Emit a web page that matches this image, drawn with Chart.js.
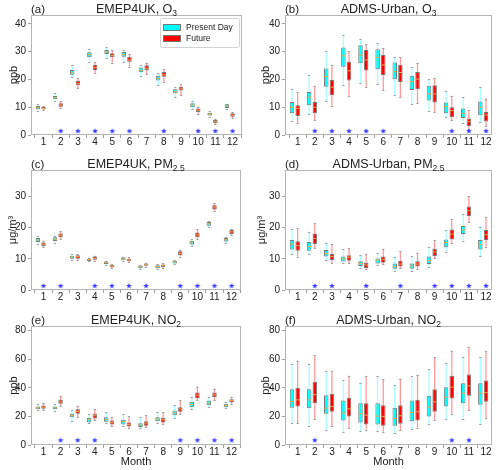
<!DOCTYPE html>
<html><head><meta charset="utf-8">
<script src="https://cdn.jsdelivr.net/npm/chart.js@4.4.1/dist/chart.umd.min.js"></script>
<style>
html,body{margin:0;padding:0;background:#fff}
body{width:500px;height:470px;position:relative;overflow:hidden}
canvas{position:absolute}
</style></head>
<body>
<canvas id="pa"></canvas><canvas id="pb"></canvas>
<canvas id="pc"></canvas><canvas id="pd"></canvas>
<canvas id="pe"></canvas><canvas id="pf"></canvas>
<script>
// ---------------- DATA ----------------
const months = [1,2,3,4,5,6,7,8,9,10,11,12];
// each row: [whisker low, Q1, median, Q3, whisker high]
const aPresent = [[8.8,9.25,9.85,10.45,11.2],[12.4,12.85,13.4,14.05,15.0],[20.8,21.7,22.4,23.4,25.1],[26.4,28.0,28.9,29.8,30.9],[27.8,29.2,29.9,30.6,31.6],[26.3,28.2,28.9,29.9,30.6],[21.3,22.6,23.3,24.3,25.2],[17.9,19.6,20.4,21.3,22.2],[13.6,15.0,15.6,16.5,17.4],[9.5,10.0,10.8,11.4,12.4],[6.6,7.0,7.5,8.0,8.6],[9.5,9.7,10.4,11.05,11.3]];
const aFuture = [[9.0,9.25,9.6,10.2,10.3],[9.85,10.2,10.8,11.4,12.25],[16.8,17.9,18.5,19.5,20.5],[22.2,23.4,24.3,25.2,26.3],[26.1,28.0,28.6,29.4,30.6],[24.6,26.4,27.0,28.2,29.2],[22.0,23.4,24.0,25.1,26.1],[19.1,21.0,21.7,22.7,23.7],[14.3,16.0,16.6,17.4,18.4],[7.6,8.3,8.9,9.5,10.2],[4.0,4.3,4.8,5.4,5.9],[6.0,6.6,7.1,7.8,8.3]];
const bPresent = [[5.2,7.8,10.0,11.9,16.5],[7.6,10.7,13.6,15.5,21.5],[12.1,17.4,21.0,23.9,30.1],[18.0,24.6,28.5,31.5,36.0],[18.6,25.8,28.8,32.3,34.6],[18.4,23.7,28.0,30.9,33.0],[14.4,20.1,22.8,26.1,28.0],[11.2,16.2,19.2,21.3,24.4],[8.8,12.4,14.8,17.7,20.1],[6.4,7.8,10.2,11.7,16.0],[4.4,6.1,7.8,9.5,13.6],[4.7,7.1,10.0,12.1,17.4]];
const bFuture = [[4.4,6.8,9.6,10.7,15.5],[5.4,7.8,10.0,11.9,17.7],[10.5,14.3,17.2,19.8,25.3],[14.1,19.6,23.1,26.4,30.1],[17.4,23.2,27.0,30.6,32.8],[16.2,21.6,25.2,28.8,31.2],[13.6,19.1,22.5,25.3,28.0],[11.4,16.5,20.1,22.7,25.8],[8.3,11.7,14.8,17.9,20.5],[5.4,6.4,8.8,10.0,14.1],[2.3,3.2,4.8,5.9,9.0],[3.2,4.9,7.2,8.3,13.1]];
const cPresent = [[14.7,15.4,16.0,16.65,17.3],[15.2,15.7,16.2,16.9,17.3],[9.6,10.0,10.6,11.0,11.5],[9.2,9.3,9.7,10.0,10.4],[8.0,8.3,8.75,9.1,9.4],[9.2,9.5,9.9,10.4,10.7],[6.7,7.0,7.4,7.8,8.0],[6.7,7.0,7.5,7.9,8.2],[8.2,8.5,9.0,9.4,9.7],[14.1,14.6,15.3,15.8,16.2],[20.1,20.6,21.2,21.8,22.2],[15.05,15.5,16.1,16.65,17.1]];
const cFuture = [[13.7,14.1,14.6,15.2,15.8],[16.2,16.9,17.5,18.1,18.8],[9.6,10.0,10.7,11.1,11.5],[9.4,9.7,10.1,10.7,11.0],[7.0,7.3,7.7,8.1,8.4],[8.9,9.2,9.6,10.0,10.5],[7.5,7.8,8.2,8.5,8.75],[7.0,7.4,7.8,8.2,8.5],[10.7,11.1,11.7,12.4,12.8],[16.4,16.9,17.6,18.4,19.4],[25.4,25.8,26.5,27.1,27.8],[17.5,17.9,18.6,19.2,19.6]];
const dPresent = [[11.4,13.0,14.7,16.0,19.4],[11.5,12.6,13.9,15.4,18.7],[9.6,10.7,11.7,12.8,15.2],[8.5,9.1,10.0,10.7,13.0],[7.0,7.7,8.5,9.2,11.1],[8.0,8.5,9.6,10.1,11.7],[6.2,6.8,7.5,8.5,10.7],[6.0,6.8,7.7,8.5,10.9],[7.5,8.3,9.4,10.7,13.9],[12.3,13.7,15.2,16.2,19.2],[15.8,17.9,19.2,20.5,24.3],[10.9,13.0,14.5,16.0,20.3]];
const dFuture = [[10.7,12.6,14.2,15.6,19.75],[13.3,14.7,16.5,18.1,21.35],[8.5,9.6,10.7,11.5,14.7],[8.5,9.4,10.5,11.1,13.3],[6.6,7.0,8.0,8.75,11.4],[8.3,8.75,9.8,10.7,13.2],[7.0,7.5,8.3,9.4,12.4],[6.6,7.5,8.3,9.2,12.0],[10.1,10.9,12.2,13.2,16.0],[14.9,16.2,17.9,19.4,22.6],[21.6,23.7,25.4,26.7,30.1],[13.9,16.0,17.7,19.2,23.3]];
const ePresent = [[24.2,25.1,26.0,27.0,28.6],[24.0,25.1,26.0,27.0,28.6],[16.7,19.5,20.7,21.9,24.7],[15.3,15.8,17.7,19.1,21.9],[15.3,16.3,17.9,19.5,23.3],[13.0,14.4,16.3,17.7,21.9],[11.6,12.6,14.0,15.3,19.5],[15.3,16.7,18.1,19.5,23.3],[18.6,20.9,22.6,24.2,27.9],[25.1,26.5,28.4,30.2,33.5],[26.5,27.9,29.3,31.2,33.5],[25.6,26.5,27.7,28.8,30.2]];
const eFuture = [[24.2,25.3,26.5,27.7,29.3],[27.4,28.8,30.2,31.6,34.4],[19.5,21.9,23.5,25.1,27.4],[17.2,18.6,20.5,21.9,25.3],[13.0,14.4,15.8,17.2,19.5],[11.6,13.0,14.4,15.8,20.0],[12.6,13.5,15.3,16.7,20.9],[14.4,15.8,17.7,19.1,22.8],[21.4,23.3,25.1,26.5,31.2],[31.2,32.6,34.9,36.7,40.9],[31.6,33.5,35.1,36.7,39.5],[28.8,29.8,31.2,32.1,33.5]];
const fPresent = [[15.3,26.0,30.5,39.1,56.7],[13.5,25.8,31.6,39.1,56.7],[10.7,21.9,25.8,34.9,51.6],[9.3,17.2,22.3,31.2,45.6],[9.8,15.8,21.9,29.3,43.7],[9.8,14.4,20.2,29.3,48.4],[8.4,13.5,18.6,26.0,42.3],[11.2,16.7,22.8,31.2,48.4],[14.9,20.0,26.5,34.4,53.0],[18.1,27.0,33.5,40.5,57.2],[18.1,29.3,36.3,43.3,61.4],[14.9,28.1,36.3,43.3,61.4]];
const fFuture = [[15.3,27.0,31.6,40.0,58.6],[18.1,29.3,35.3,44.2,62.8],[13.0,23.3,27.0,35.8,51.6],[11.6,20.0,25.3,33.0,48.4],[10.7,14.4,20.9,29.3,48.4],[9.3,13.5,20.0,27.9,46.0],[10.2,14.9,20.5,27.9,46.5],[12.1,17.2,23.3,31.6,49.3],[17.2,23.3,30.2,39.1,61.4],[21.4,32.6,40.5,48.4,66.0],[24.2,34.4,41.4,49.3,68.8],[18.6,30.2,36.7,45.1,65.6]];
// months marked with a star (significant change)
const aStars = [2,3,4,5,6,8,10,11,12];
const bStars = [2,3,4,5,6,10,11,12];
const cStars = [1,2,4,5,6,7,9,10,11,12];
const dStars = [2,3,5,7,9,10,11,12];
const eStars = [2,3,4,9,10,11,12];
const fStars = [2,10,11];
const seriesNames = ['Present Day','Future'];

// ---------------- STYLE ----------------
Chart.defaults.font.family = "'Liberation Sans', Arial, sans-serif";
Chart.defaults.color = '#222';
Chart.defaults.animation = false;
const PRES_FILL = '#00ffff', FUT_FILL = '#ff0000';

function makeStar(r, color) {
  const s = Math.ceil(r * 2) + 2;
  const c = document.createElement('canvas'); c.width = s; c.height = s;
  const g = c.getContext('2d'); g.fillStyle = color; g.beginPath();
  for (let k = 0; k < 10; k++) {
    const rad = k % 2 ? r * 0.42 : r; const a = -Math.PI / 2 + k * Math.PI / 5;
    g.lineTo(s / 2 + rad * Math.cos(a), s / 2 + rad * Math.sin(a));
  }
  g.closePath(); g.fill(); return c;
}
const starImg = makeStar(3, '#3535ff');

const boxExtras = {
  id: 'boxExtras',
  beforeDatasetsDraw(chart) {
    const ctx = chart.ctx, ys = chart.scales.y;
    chart.data.datasets.forEach((ds, di) => {
      if (!ds.stats) return;
      const meta = chart.getDatasetMeta(di);
      ctx.save();
      meta.data.forEach((bar, i) => {
        const s = ds.stats[i]; const x = bar.x, w = bar.width;
        ctx.strokeStyle = ds.whiskerColor; ctx.lineWidth = 1.3;
        ctx.beginPath(); ctx.moveTo(x, ys.getPixelForValue(s[0])); ctx.lineTo(x, ys.getPixelForValue(s[4])); ctx.stroke();
        ctx.strokeStyle = '#a0a0a0'; ctx.lineWidth = 1;
        [s[0], s[4]].forEach(v => { const py = Math.round(ys.getPixelForValue(v)) + 0.5;
          ctx.beginPath(); ctx.moveTo(x - w / 4, py); ctx.lineTo(x + w / 4, py); ctx.stroke(); });
      });
      ctx.restore();
    });
  },
  afterDatasetsDraw(chart) {
    const ctx = chart.ctx, ys = chart.scales.y;
    chart.data.datasets.forEach((ds, di) => {
      if (!ds.stats) return;
      const meta = chart.getDatasetMeta(di);
      ctx.save(); ctx.strokeStyle = ds.medianColor; ctx.lineWidth = 1;
      meta.data.forEach((bar, i) => {
        const py = ys.getPixelForValue(ds.stats[i][2]);
        ctx.beginPath(); ctx.moveTo(bar.x - bar.width / 2 + 0.5, py); ctx.lineTo(bar.x + bar.width / 2 - 0.5, py); ctx.stroke();
      });
      ctx.restore();
    });
    // frame
    const a = chart.chartArea;
    ctx.save(); ctx.strokeStyle = '#b4b4b4'; ctx.lineWidth = 1;
    ctx.strokeRect(Math.round(a.left) + 0.5, Math.round(a.top) + 0.5, Math.round(a.right - a.left) - 1, Math.round(a.bottom - a.top) - 1);
    ctx.restore();
  },
  afterDraw(chart, args, opts) {
    const ctx = chart.ctx, a = chart.chartArea;
    // title with subscript
    const base = a.top - 2;
    ctx.save(); ctx.fillStyle = '#222'; ctx.textBaseline = 'alphabetic';
    const big = "12.5px 'Liberation Sans', Arial, sans-serif", small = "8.5px 'Liberation Sans', Arial, sans-serif";
    let total = 0;
    opts.parts.forEach(p => { ctx.font = p[1] ? small : big; total += ctx.measureText(p[0]).width; });
    let x = (a.left + a.right) / 2 - total / 2;
    opts.parts.forEach(p => { ctx.font = p[1] ? small : big; ctx.textAlign = 'left';
      ctx.fillText(p[0], x, p[1] ? base + 3 : base); x += ctx.measureText(p[0]).width; });
    ctx.font = "11.5px 'Liberation Sans', Arial, sans-serif"; ctx.textAlign = 'left';
    ctx.fillText(opts.label, a.left, base);
    // legend
    if (opts.legend) {
      const lw = 79, lh = 29, lx = a.right - lw - 3, ly = a.top + 2.5;
      ctx.fillStyle = 'rgba(255,255,255,0.85)'; ctx.strokeStyle = '#d2d2d2'; ctx.lineWidth = 1;
      ctx.beginPath(); ctx.roundRect(Math.round(lx) + 0.5, Math.round(ly) + 0.5, lw, lh, 2); ctx.fill(); ctx.stroke();
      const fills = [PRES_FILL, FUT_FILL];
      ctx.font = "8.5px 'Liberation Sans', Arial, sans-serif"; ctx.textBaseline = 'middle';
      seriesNames.forEach((n, k) => {
        const cy = ly + 9.5 + k * 11;
        ctx.fillStyle = fills[k]; ctx.fillRect(lx + 3, cy - 3, 17, 6);
        ctx.strokeStyle = '#777'; ctx.strokeRect(Math.round(lx + 3) + 0.5, Math.round(cy - 3) + 0.5, 17, 6);
        ctx.fillStyle = '#222'; ctx.fillText(n, lx + 26, cy + 0.5);
      });
    }
    ctx.restore();
  }
};

function makePanel(id, p) {
  const cv = document.getElementById(id);
  cv.width = p.w; cv.height = p.h;
  cv.style.left = p.left + 'px'; cv.style.top = p.top + 'px';
  const boxDs = (stats, off, fill, whisk, label) => ({
    type: 'bar', label, stats, whiskerColor: whisk, medianColor: '#e6a84a',
    data: stats.map((s, i) => ({ x: months[i] + off, y: [s[1], s[3]] })),
    backgroundColor: fill, borderColor: '#7a7a7a', borderWidth: 1, borderSkipped: false,
    grouped: false, barPercentage: 1.0, order: 2
  });
  const tickFont = { size: 10 };
  const yTickVals = [];
  for (let v = 0; v <= p.ymax + 1e-9; v += p.step) yTickVals.push(v);
  new Chart(cv, {
    data: {
      datasets: [
        boxDs(p.present, -0.33, PRES_FILL, '#a8ffff', seriesNames[0]),
        boxDs(p.future, 0, FUT_FILL, '#ff9a9a', seriesNames[1]),
        { type: 'line', label: 'sig', data: p.stars.map(m => ({ x: m, y: p.starY })),
          showLine: false, pointStyle: starImg, pointRadius: 3, order: 1 }
      ]
    },
    options: {
      responsive: false, animation: false,
      layout: { padding: { left: 0, right: p.pr, top: p.pt, bottom: 0 } },
      plugins: { legend: { display: false }, tooltip: { enabled: false }, title: { display: false },
        boxExtras: { parts: p.title, label: p.label, legend: !!p.legend } },
      scales: {
        x: { type: 'linear', min: p.xmin, max: p.xmax, offset: false,
          afterBuildTicks: s => { s.ticks = months.map(v => ({ value: v })); },
          afterFit: s => { s.height = p.xh; s.paddingLeft = 0; s.paddingRight = 0; },
          ticks: { font: tickFont, autoSkip: false, maxRotation: 0, padding: -2, color: '#222' },
          grid: { display: true, drawOnChartArea: false, drawTicks: true, tickLength: 3, color: '#a0a0a0' },
          border: { display: false },
          title: { display: !!p.xtitle, text: p.xtitle || '', font: { size: 11 }, padding: { top: 0, bottom: 1 }, color: '#222' } },
        y: { type: 'linear', min: 0, max: p.ymax,
          afterBuildTicks: s => { s.ticks = yTickVals.map(v => ({ value: v })); },
          afterFit: s => { s.width = p.yw; s.paddingTop = 0; s.paddingBottom = 0; },
          ticks: { font: tickFont, padding: 2, color: '#222' },
          grid: { display: true, drawOnChartArea: false, drawTicks: true, tickLength: 3, color: '#a0a0a0' },
          border: { display: false },
          title: { display: true, text: p.ytitle, font: { size: 11 }, padding: { top: p.ytp, bottom: 0 }, color: '#222' } }
      }
    },
    plugins: [boxExtras]
  });
}

makePanel('pa', { left: 0, top: 0, w: 250, h: 152, pt: 15, pr: 8, yw: 31, xh: 17, xmin: 0.27, xmax: 12.55,
  ymax: 43.2, step: 10, starY: 1.4, ytitle: 'ppb', ytp: 7.5, label: '(a)', title: [['EMEP4UK, O', 0], ['3', 1]],
  present: aPresent, future: aFuture, stars: aStars, legend: true });
makePanel('pb', { left: 250, top: 0, w: 250, h: 152, pt: 15, pr: 8, yw: 35, xh: 17, xmin: 0.26, xmax: 12.35,
  ymax: 43.2, step: 10, starY: 1.4, ytitle: 'ppb', ytp: 9.5, label: '(b)', title: [['ADMS-Urban, O', 0], ['3', 1]],
  present: bPresent, future: bFuture, stars: bStars });
makePanel('pc', { left: 0, top: 152, w: 250, h: 155, pt: 18, pr: 9, yw: 31, xh: 17, xmin: 0.27, xmax: 12.55,
  ymax: 38.4, step: 10, starY: 1.3, ytitle: 'μg/m³', ytp: 6.5, label: '(c)', title: [['EMEP4UK, PM', 0], ['2.5', 1]],
  present: cPresent, future: cFuture, stars: cStars });
makePanel('pd', { left: 250, top: 152, w: 250, h: 155, pt: 18, pr: 8, yw: 35, xh: 17, xmin: 0.26, xmax: 12.35,
  ymax: 38.4, step: 10, starY: 1.3, ytitle: 'μg/m³', ytp: 5.5, label: '(d)', title: [['ADMS-Urban, PM', 0], ['2.5', 1]],
  present: dPresent, future: dFuture, stars: dStars });
makePanel('pe', { left: 0, top: 308, w: 250, h: 162, pt: 18, pr: 9, yw: 31, xh: 25, xmin: 0.27, xmax: 12.55,
  ymax: 83.3, step: 20, starY: 3.3, ytitle: 'ppb', ytp: 7, label: '(e)', title: [['EMEP4UK, NO', 0], ['2', 1]],
  present: ePresent, future: eFuture, stars: eStars, xtitle: 'Month' });
makePanel('pf', { left: 250, top: 308, w: 250, h: 162, pt: 18, pr: 8, yw: 35, xh: 25, xmin: 0.26, xmax: 12.35,
  ymax: 83.3, step: 20, starY: 3.3, ytitle: 'ppb', ytp: 9.5, label: '(f)', title: [['ADMS-Urban, NO', 0], ['2', 1]],
  present: fPresent, future: fFuture, stars: fStars, xtitle: 'Month' });
</script>
</body></html>
